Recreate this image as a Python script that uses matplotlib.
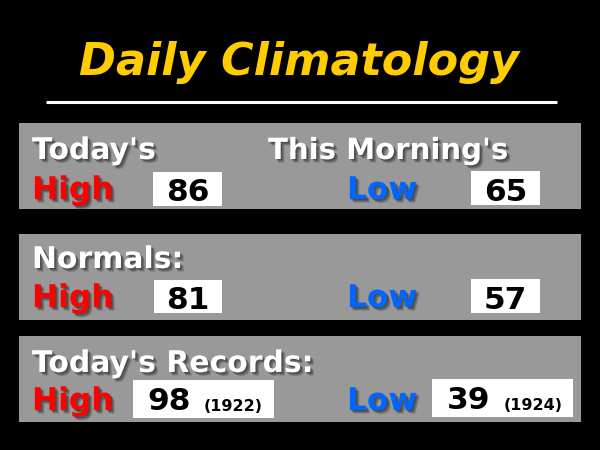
import matplotlib
matplotlib.use("Agg")
import matplotlib.pyplot as plt
import matplotlib.patheffects as pe
from matplotlib.patches import Rectangle

# values
title = "Daily Climatology"
headers = ["Today's", "Normals:", "Today's Records:"]
header2 = "This Morning's"
highs = [86, 81, 98]
lows = [65, 57, 39]
rec_high_year = 1922
rec_low_year = 1924

GRAY = "#999999"
RED = "#ff0000"
BLUE = "#0066ff"
GOLD = "#ffcc00"

fig = plt.figure(figsize=(6, 4.5), dpi=100, facecolor="black")
ax = fig.add_axes([0, 0, 1, 1])
ax.set_xlim(0, 600)
ax.set_ylim(450, 0)
ax.axis("off")
ax.set_facecolor("black")

# soft drop shadow, a few stacked offsets to fake a blur
shadow = [pe.SimplePatchShadow(offset=(o, -o), shadow_rgbFace="black", alpha=0.16)
          for o in (0.8, 1.4, 2.0, 2.6)] + [pe.Normal()]

# title + underline
ax.text(299, 75, title, fontsize=32, color=GOLD, fontweight="bold", style="italic",
        family="DejaVu Sans", ha="center", va="baseline")
ax.plot([46, 557], [102, 102], color="white", lw=2.2, solid_capstyle="butt")

# panels
panel_top = [123, 234, 336]
panel_h = 86
head_y = [159, 268, 372]
row_y = [199, 307, 410]

for i in range(3):
    ax.add_patch(Rectangle((19, panel_top[i]), 562, panel_h, facecolor=GRAY, edgecolor="none"))
    ax.text(32, head_y[i], headers[i], fontsize=21.5, color="white", fontweight="bold",
            family="DejaVu Sans", va="baseline", path_effects=shadow)
    ax.text(32, row_y[i], "High", fontsize=22.5, color=RED, fontweight="bold",
            family="DejaVu Sans", va="baseline", path_effects=shadow)
    ax.text(347, row_y[i], "Low", fontsize=22.5, color=BLUE, fontweight="bold",
            family="DejaVu Sans", va="baseline", path_effects=shadow)

ax.text(268, head_y[0], header2, fontsize=21, color="white", fontweight="bold",
        family="DejaVu Sans", va="baseline", path_effects=shadow)

# value boxes (first two panels)
hi_box = [(153, 172, 69, 34), (154, 280, 68, 33)]
lo_box = [(471, 171, 69, 34), (471, 279, 69, 34)]
for i in range(2):
    x, y, w, h = hi_box[i]
    ax.add_patch(Rectangle((x, y), w, h, facecolor="white", edgecolor="none"))
    ax.text(x + w / 2, row_y[i] + 2, str(highs[i]), fontsize=22.5, color="black",
            fontweight="bold", family="DejaVu Sans", ha="center", va="baseline")
    x, y, w, h = lo_box[i]
    ax.add_patch(Rectangle((x, y), w, h, facecolor="white", edgecolor="none"))
    ax.text(x + w / 2, row_y[i] + 2, str(lows[i]), fontsize=22.5, color="black",
            fontweight="bold", family="DejaVu Sans", ha="center", va="baseline")

# record boxes
ax.add_patch(Rectangle((133, 380), 141, 38, facecolor="white", edgecolor="none"))
ax.add_patch(Rectangle((432, 379), 141, 38, facecolor="white", edgecolor="none"))
ax.text(147, 410, str(highs[2]), fontsize=22.5, color="black", fontweight="bold",
        family="DejaVu Sans", va="baseline")
ax.text(204, 411, "(%d)" % rec_high_year, fontsize=11.5, color="black", fontweight="bold",
        family="DejaVu Sans", va="baseline")
ax.text(447, 409, str(lows[2]), fontsize=22.5, color="black", fontweight="bold",
        family="DejaVu Sans", va="baseline")
ax.text(504, 410, "(%d)" % rec_low_year, fontsize=11.5, color="black", fontweight="bold",
        family="DejaVu Sans", va="baseline")

fig.savefig("out.png", dpi=100, facecolor="black")
